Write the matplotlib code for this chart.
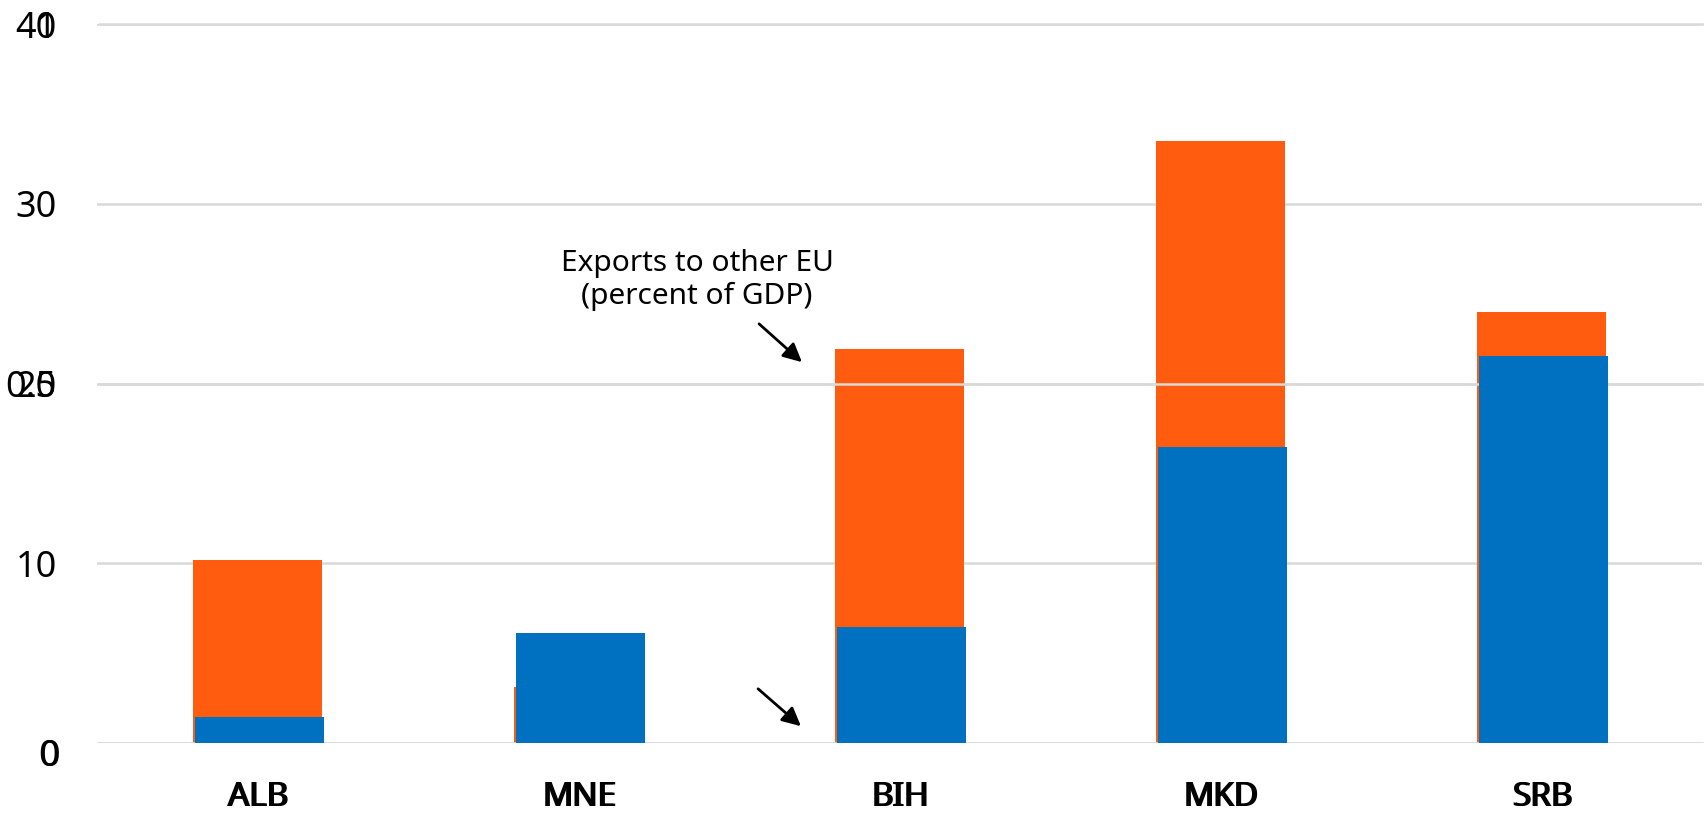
import matplotlib
matplotlib.use("Agg")
import matplotlib.pyplot as plt
from matplotlib.patches import FancyArrowPatch
from matplotlib.transforms import ScaledTranslation

plt.rcParams["font.family"] = ["Noto Sans", "DejaVu Sans"]

countries = ["ALB", "MNE", "BIH", "MKD", "SRB"]
# Exports to other EU (percent of GDP)
exports_other_eu = [10.2, 3.1, 21.9, 33.5, 24.0]
# Second series, on its own 0-1 scale
second_series = [0.036, 0.153, 0.161, 0.412, 0.538]

left_ticks = [0, 10, 20, 30, 40]
left_labels = ["0", "10", "20", "30", "40"]
right_ticks = [0, 0.5, 1]
right_labels = ["0", "0.5", "1"]

ORANGE = "#FF5C0F"
BLUE = "#0070C0"
GRID = "#D9D9D9"

W, H = 1706, 814
fig = plt.figure(figsize=(W / 100, H / 100), dpi=100)

x0, x1 = 97, 1702
y_bot, y_top = 743, 24
ax1 = fig.add_axes([x0 / W, (H - y_bot) / H, (x1 - x0) / W, (y_bot - y_top) / H])
ax2 = fig.add_axes([(x0 + 2) / W, (H - y_bot) / H, (x1 - x0) / W, (y_bot - y_top + 2) / H])
ax2.patch.set_visible(False)

pos = list(range(len(countries)))

for ax in (ax1, ax2):
    for s in ax.spines.values():
        s.set_visible(False)
    ax.tick_params(length=0)
    ax.set_xlim(-0.5, len(countries) - 0.5)
    ax.set_axisbelow(True)
    ax.yaxis.grid(True, color=GRID, linewidth=1.8)

ax1.bar(pos, exports_other_eu, width=0.4, color=ORANGE, zorder=2)
ax1.set_ylim(0, 40)
ax1.set_yticks(left_ticks)
ax1.set_yticklabels(left_labels, fontsize=26)
ax1.tick_params(axis="y", pad=29)

ax2.bar(pos, second_series, width=0.4, color=BLUE, zorder=2)
ax2.set_ylim(0, 1.0028)
ax2.set_yticks(right_ticks)
ax2.set_yticklabels(right_labels, fontsize=26)
ax2.tick_params(axis="y", pad=30.5)

for ax in (ax1, ax2):
    ax.set_xticks(pos)
    ax.set_xticklabels(countries, fontsize=24, fontweight="bold")
    ax.tick_params(axis="x", pad=27)

# baseline zero labels sit a little below the axis line
for ax, dx in ((ax1, 2), (ax2, 3)):
    lbl = ax.get_yticklabels()[0]
    lbl.set_fontweight("bold")
    lbl.set_transform(lbl.get_transform() + ScaledTranslation(dx / 100, -9 / 100, fig.dpi_scale_trans))

fig.text(697 / W, 1 - 280 / H, "Exports to other EU\n(percent of GDP)",
         ha="center", va="center", fontsize=21.5, linespacing=1.2)

fig.add_artist(FancyArrowPatch(
    (757 / W, 1 - 322 / H), (804 / W, 1 - 364 / H), transform=fig.transFigure,
    arrowstyle="-|>", mutation_scale=28, color="black", linewidth=2))
fig.add_artist(FancyArrowPatch(
    (756 / W, 1 - 687 / H), (803 / W, 1 - 728 / H), transform=fig.transFigure,
    arrowstyle="-|>", mutation_scale=28, color="black", linewidth=2))

fig.savefig("out.png", dpi=100)
